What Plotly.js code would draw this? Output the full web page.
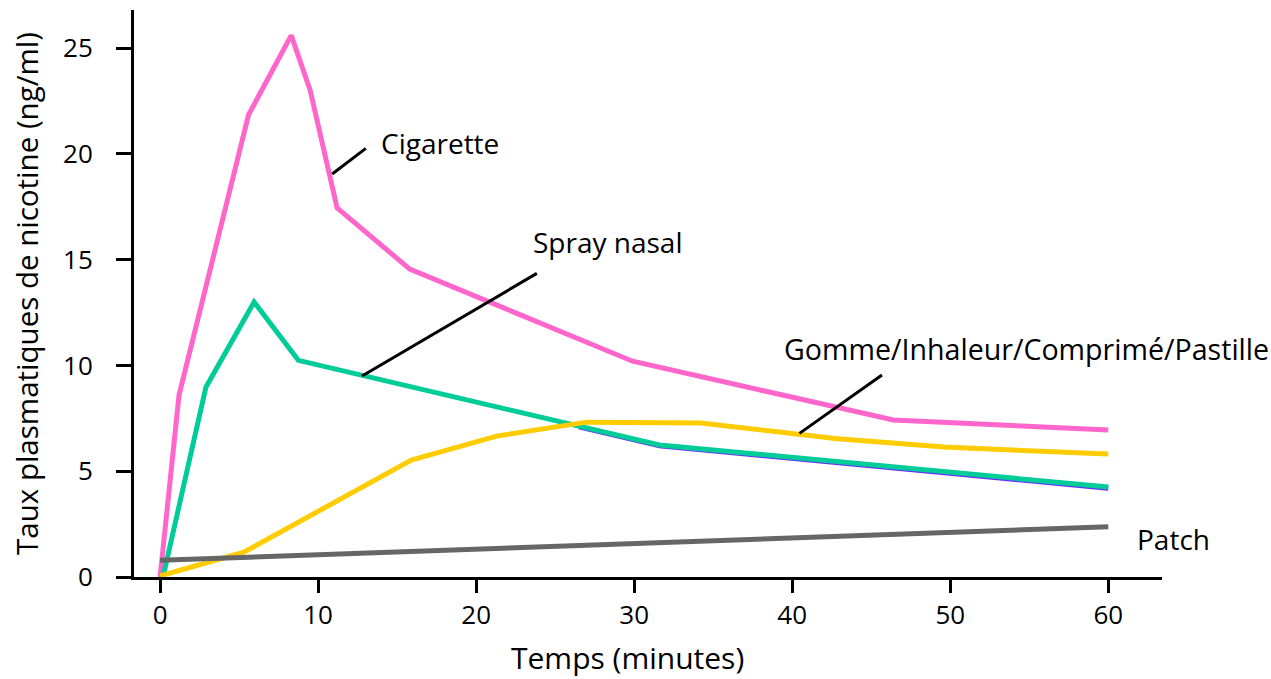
<!DOCTYPE html>
<html>
<head>
<meta charset="utf-8">
<script src="https://cdn.plot.ly/plotly-3.0.1.min.js"></script>
<style>html,body{margin:0;padding:0;background:#fff;}#chart{width:1271px;height:679px;}</style>
</head>
<body>
<div id="chart"></div>
<script>
// Time (minutes) and plasma nicotine (ng/ml)
const cigaretteX = [0, 1.2, 5.6, 8.3, 9.5, 11.2, 15.8, 29.9, 46.4, 60];
const cigaretteY = [0, 8.6, 21.85, 25.6, 23.0, 17.45, 14.55, 10.2, 7.42, 6.95];

const sprayX = [0.2, 2.9, 5.95, 8.75, 31.6, 60];
const sprayY = [0.05, 8.97, 13.0, 10.24, 6.24, 4.25];

const sprayEdgeX = [26.5, 31.6, 60];
const sprayEdgeY = [7.1, 6.2, 4.2];

const gommeX = [0, 5.3, 15.9, 21.3, 27.0, 34.2, 42.7, 49.6, 60];
const gommeY = [0.05, 1.17, 5.53, 6.66, 7.32, 7.28, 6.55, 6.14, 5.81];

const patchX = [0, 60];
const patchY = [0.79, 2.37];

const xTicks = [0, 10, 20, 30, 40, 50, 60];
const yTicks = [0, 5, 10, 15, 20, 25];

const labels = ["Cigarette", "Spray nasal", "Gomme/Inhaleur/Comprimé/Pastille", "Patch"];
const xTitle = 'Temps (minutes)';
const yTitle = 'Taux plasmatiques de nicotine (ng/ml)';

const FONT = '"Open Sans", "DejaVu Sans", sans-serif';

const line = (x, y, color, width, name) => ({
  x: x, y: y, type: 'scatter', mode: 'lines', name: name,
  line: {color: color, width: width, shape: 'linear'},
  hoverinfo: 'x+y+name'
});

const traces = [
  line(cigaretteX, cigaretteY, '#FF66CC', 5, labels[0]),
  Object.assign(line(sprayEdgeX, sprayEdgeY, '#6A2BFF', 5, labels[1]), {showlegend: false}),
  line(sprayX, sprayY, '#00CC99', 5, labels[1]),
  line(gommeX, gommeY, '#FFCC00', 5, labels[2]),
  line(patchX, patchY, '#666666', 5, labels[3])
];

const leader = (x0, y0, x1, y1) => ({
  type: 'line', xref: 'x', yref: 'y', x0: x0, y0: y0, x1: x1, y1: y1,
  line: {color: '#000', width: 3}
});

const note = (text, x, y, size) => ({
  text: text, x: x, y: y, xref: 'x', yref: 'y', xanchor: 'left', yanchor: 'middle',
  showarrow: false, font: {family: FONT, size: size, color: '#000'}
});

const layout = {
  width: 1271, height: 679,
  margin: {l: 134, r: 109, t: 10, b: 102},
  paper_bgcolor: '#fff', plot_bgcolor: '#fff',
  showlegend: false,
  font: {family: FONT, color: '#000'},
  xaxis: {
    range: [-1.65, 63.4], tickvals: xTicks, ticktext: xTicks.map(String),
    showgrid: false, zeroline: false, showline: true, linecolor: '#000', linewidth: 3,
    ticks: 'outside', ticklen: 13, tickwidth: 3, tickcolor: '#000',
    tickfont: {family: FONT, size: 26, color: '#000'}
  },
  yaxis: {
    range: [0, 26.8], tickvals: yTicks, ticktext: yTicks.map(String),
    showgrid: false, zeroline: false, showline: true, linecolor: '#000', linewidth: 3,
    ticks: 'outside', ticklen: 15, tickwidth: 3, tickcolor: '#000',
    ticklabelstandoff: 18,
    tickfont: {family: FONT, size: 26, color: '#000'},
    title: {text: yTitle, font: {family: FONT, size: 29.5, color: '#000'}, standoff: 16}
  },
  shapes: [
    leader(10.89, 19.05, 13.02, 20.26),
    leader(12.78, 9.5, 23.84, 14.35),
    leader(40.46, 6.79, 45.68, 9.55)
  ],
  annotations: [
    note(labels[0], 13.85, 20.5, 28),
    note(labels[1], 23.5, 15.85, 28),
    note(labels[2], 39.35, 10.8, 28.6),
    note(labels[3], 61.7, 1.8, 28),
    {text: xTitle, xref: 'paper', yref: 'paper', x: 0.4805, y: -0.142,
     xanchor: 'center', yanchor: 'middle', showarrow: false,
     font: {family: FONT, size: 30, color: '#000'}}
  ]
};

Plotly.newPlot('chart', traces, layout, {displayModeBar: false, staticPlot: true});
</script>
</body>
</html>
